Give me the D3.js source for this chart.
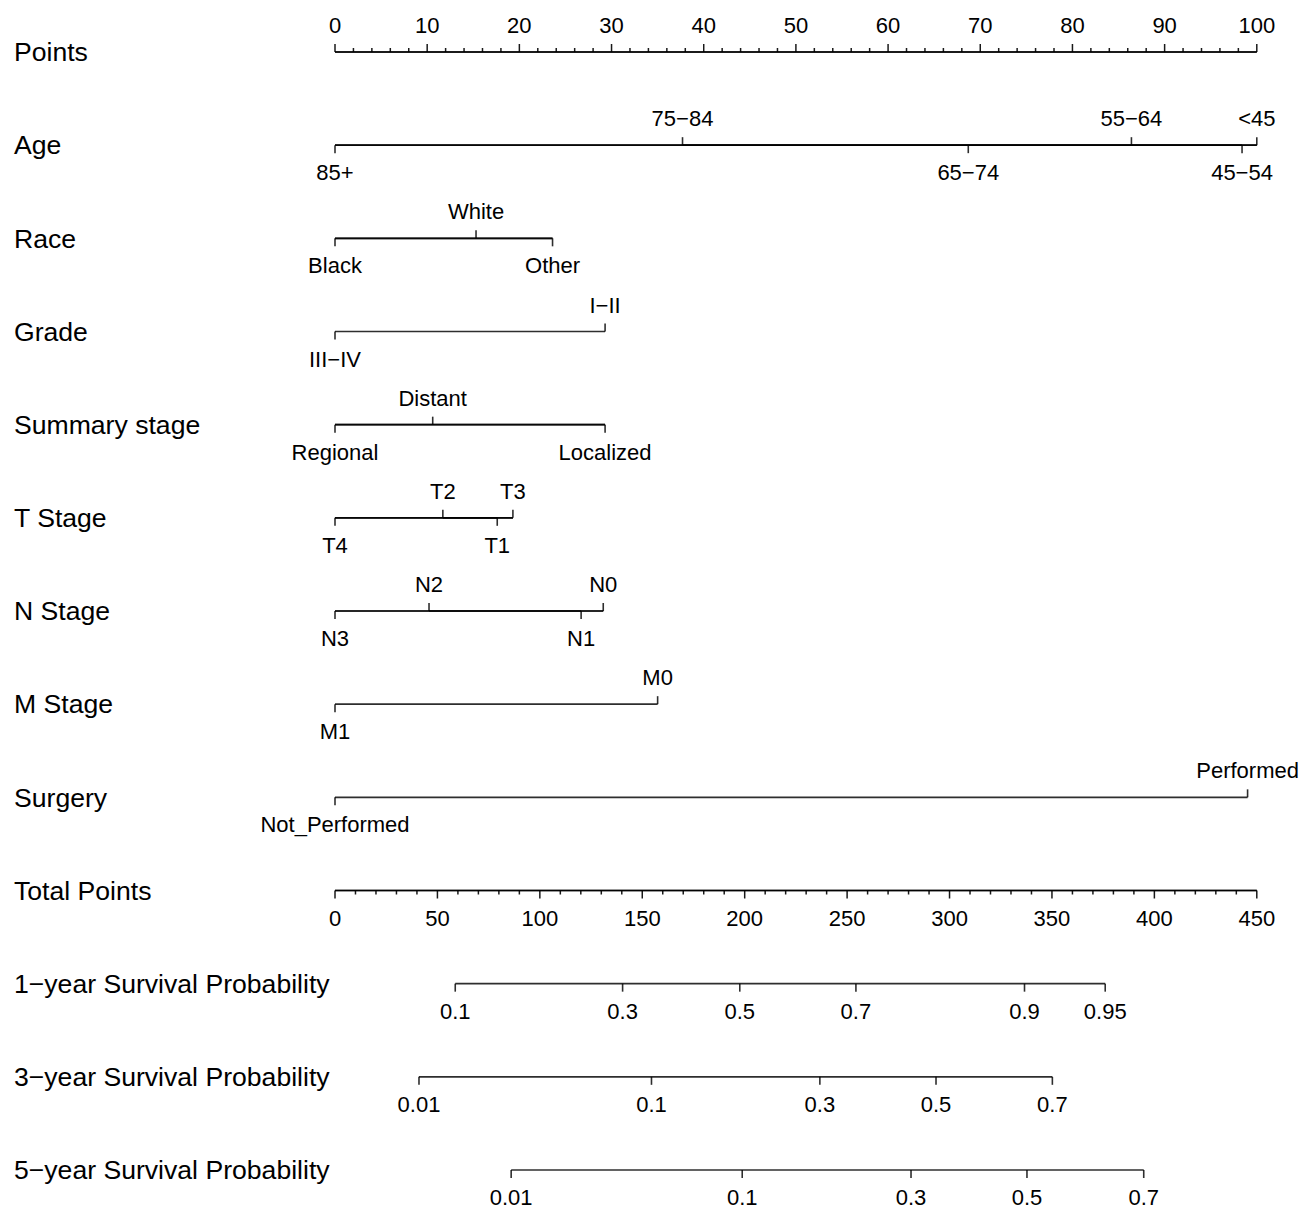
<!DOCTYPE html>
<html><head><meta charset="utf-8">
<script src="https://cdn.jsdelivr.net/npm/d3@7"></script>
<style>body{margin:0;background:#fff}svg{display:block}</style>
</head><body><svg id="c" width="1299" height="1209"></svg>
<script>
// ---- data ----
const rowTitles = ["Points","Age","Race","Grade","Summary stage","T Stage","N Stage","M Stage","Surgery","Total Points","1\u2212year Survival Probability","3\u2212year Survival Probability","5\u2212year Survival Probability"];
const pointMajor = [0,10,20,30,40,50,60,70,80,90,100];
const totalMajor = [0,50,100,150,200,250,300,350,400,450];

const ageLevels = ["85+","75\u221284","65\u221274","55\u221264","45\u221254","<45"];
const agePoints = [0,37.7,68.7,86.4,98.4,100];
const raceLevels = ["Black","White","Other"];
const racePoints = [0,15.3,23.6];
const gradeLevels = ["III\u2212IV","I\u2212II"];
const gradePoints = [0,29.3];
const stageLevels = ["Regional","Distant","Localized"];
const stagePoints = [0,10.6,29.3];
const tLevels = ["T4","T2","T1","T3"];
const tPoints = [0,11.7,17.6,19.3];
const nLevels = ["N3","N2","N1","N0"];
const nPoints = [0,10.2,26.7,29.1];
const mLevels = ["M1","M0"];
const mPoints = [0,35.0];
const surgeryLevels = ["Not_Performed","Performed"];
const surgeryPoints = [0,99.0];

const surv1Labels = ["0.1","0.3","0.5","0.7","0.9","0.95"];
const surv1Total  = [58.7,140.4,197.6,254.3,336.6,376.0];
const surv3Labels = ["0.01","0.1","0.3","0.5","0.7"];
const surv3Total  = [41.0,154.5,236.7,293.4,350.2];
const surv5Labels = ["0.01","0.1","0.3","0.5","0.7"];
const surv5Total  = [86.0,198.8,281.2,337.8,394.8];

// ---- layout ----
const FONT = "'Liberation Sans', Arial, Helvetica, sans-serif";
const svg = d3.select("#c");
svg.append("rect").attr("width",1299).attr("height",1209).attr("fill","#fff");
const x  = d3.scaleLinear().domain([0,100]).range([335,1256.8]);
const xt = d3.scaleLinear().domain([0,450]).range([335,1256.8]);
const rowY = d3.scaleLinear().domain([0,12]).range([52,1170]);
const TICK = 8, MINOR = 4;
const ABOVE = -19, BELOW = 35;
const LW = 1.6, LOP = 0.82;

function seg(x1,x2,y1,y2,w,op){
  svg.append("line").attr("x1",x1).attr("x2",x2).attr("y1",y1).attr("y2",y2)
    .attr("stroke","#000").attr("stroke-width",w||LW).attr("stroke-opacity",op==null?LOP:op);
}
function label(txt,xx,yy){
  svg.append("text").attr("x",xx).attr("y",yy).attr("text-anchor","middle")
    .attr("font-family",FONT).attr("font-size",22).attr("fill","#000").text(txt);
}

// titles
rowTitles.forEach((t,i)=>{
  svg.append("text").attr("x",14).attr("y",rowY(i)).attr("dy","0.35em")
    .attr("font-family",FONT).attr("font-size",26.6).attr("fill","#000").text(t);
});

// Points axis (top)
{
  const y = rowY(0);
  seg(x(0),x(100),y,y,1.7,0.9); seg(x(0),x(100),y,y,1.7,0.9);
  d3.range(0,101,2).forEach(v=>{
    const major = v%10===0;
    seg(x(v),x(v),y,y-(major?TICK:MINOR),1.5,0.9);
  });
  pointMajor.forEach(v=>label(String(v),x(v),y+ABOVE));
}

// variable rows
function drawVar(i, levels, pts){
  const y = rowY(i);
  const items = levels.map((l,k)=>({l,p:pts[k]})).sort((a,b)=>a.p-b.p);
  items.forEach((d,k)=>d.top = k%2===1);
  seg(x(d3.min(items,d=>d.p)), x(d3.max(items,d=>d.p)), y, y);
  [items.filter(d=>d.top), items.filter(d=>!d.top)].forEach(g=>{
    if(g.length>1) seg(x(d3.min(g,d=>d.p)), x(d3.max(g,d=>d.p)), y, y);
  });
  items.forEach(d=>{
    seg(x(d.p),x(d.p),y,d.top?y-TICK:y+TICK);
    label(d.l, x(d.p), d.top? y+ABOVE : y+BELOW);
  });
}
drawVar(1, ageLevels, agePoints);
drawVar(2, raceLevels, racePoints);
drawVar(3, gradeLevels, gradePoints);
drawVar(4, stageLevels, stagePoints);
drawVar(5, tLevels, tPoints);
drawVar(6, nLevels, nPoints);
drawVar(7, mLevels, mPoints);
drawVar(8, surgeryLevels, surgeryPoints);

// Total points axis (bottom)
{
  const y = rowY(9);
  seg(xt(0),xt(450),y,y,1.7,0.9); seg(xt(0),xt(450),y,y,1.7,0.9);
  d3.range(0,451,10).forEach(v=>{
    const major = v%50===0;
    seg(xt(v),xt(v),y,y+(major?TICK:MINOR),1.5,0.9);
  });
  totalMajor.forEach(v=>label(String(v),xt(v),y+BELOW));
}

// survival probability axes
function drawSurv(i, labs, tot){
  const y = rowY(i);
  seg(xt(d3.min(tot)), xt(d3.max(tot)), y, y);
  tot.forEach((t,k)=>{
    seg(xt(t),xt(t),y,y+TICK);
    label(labs[k], xt(t), y+BELOW);
  });
}
drawSurv(10, surv1Labels, surv1Total);
drawSurv(11, surv3Labels, surv3Total);
drawSurv(12, surv5Labels, surv5Total);
</script></body></html>
